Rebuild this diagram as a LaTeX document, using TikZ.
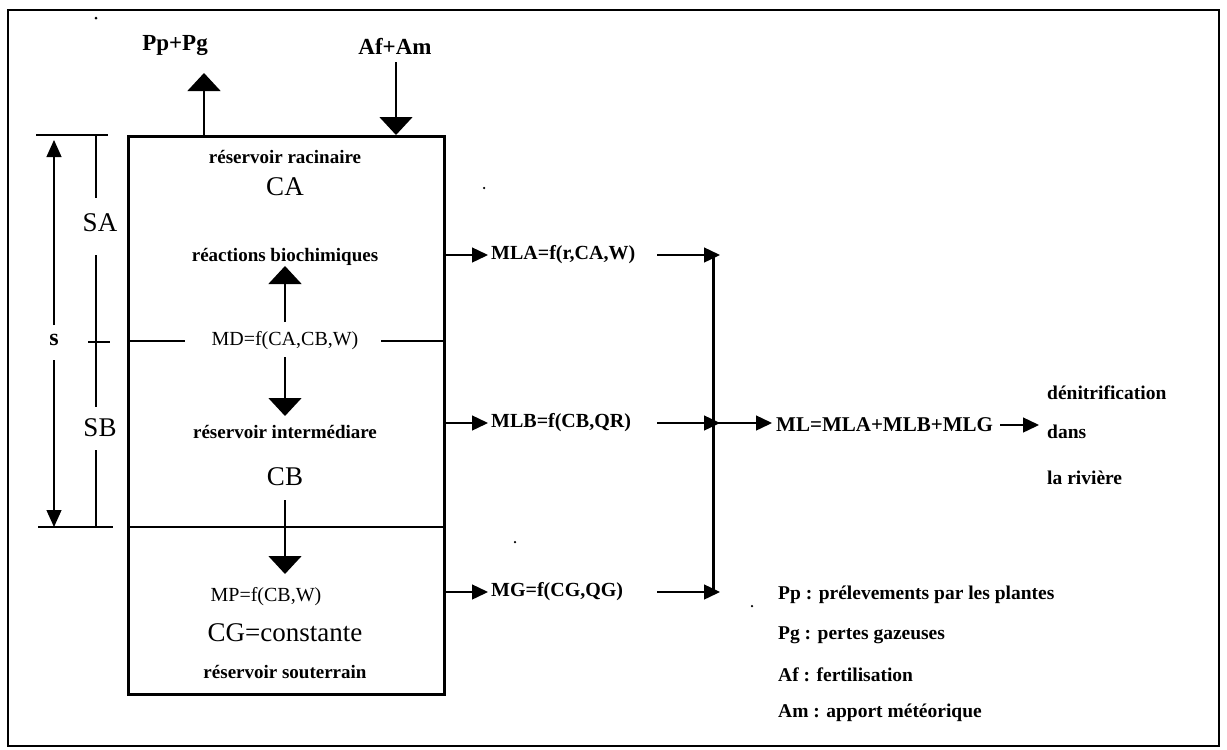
\documentclass[tikz,border=0pt]{standalone}
\usepackage{fontspec}
\setmainfont{Liberation Serif}
\usetikzlibrary{arrows.meta}
\begin{document}
\begin{tikzpicture}[x=1pt,y=-1pt,
  bigarrow/.style={-{Triangle[width=33pt,length=18pt]}, line width=1.6pt},
  smallarrow/.style={-{Triangle[width=15pt,length=16pt]}, line width=1.4pt},
  dimarrow/.style={-{Triangle[width=15pt,length=17pt]}, line width=1.3pt},
  thinline/.style={line width=1.3pt},
  txt/.style={inner sep=0pt, font=\fontsize{20}{20}\selectfont},
  btxt/.style={inner sep=0pt, font=\fontsize{19}{19}\selectfont\bfseries},
  toptxt/.style={inner sep=0pt, font=\fontsize{23}{23}\selectfont\bfseries},
  bigtxt/.style={inner sep=0pt, font=\fontsize{27}{27}\selectfont},
  frm/.style={inner sep=0pt, anchor=west, font=\fontsize{20}{20}\selectfont\bfseries},
  leg/.style={inner sep=0pt, anchor=west, font=\fontsize{19.5}{19.5}\selectfont\bfseries},
  dotmark/.style={fill=black, inner sep=0pt, minimum size=3pt, circle}
]
\useasboundingbox (0,0) rectangle (1227,750);
\draw[line width=2.5pt] (8,10) rectangle (1219,746);

% main box
\node[draw, line width=3pt, minimum width=316pt, minimum height=558pt,
      anchor=north west, inner sep=0pt] (box) at (127,135) {};

% top flows
\node[toptxt] (pppg) at (175,46) {Pp+Pg};
\node[toptxt] (afam) at (395,46) {Af+Am};
\coordinate (pout) at (204,135);
\coordinate (ptip) at (204,73);
\coordinate (ain) at (396,62);
\coordinate (atip) at (396,135);
\draw[bigarrow] (pout) -- (ptip);
\draw[bigarrow] (ain) -- (atip);

% scan dots
\node[dotmark] (d1) at (96,18) {};
\node[dotmark, minimum size=2.5pt] (d2) at (484,188) {};
\node[dotmark, minimum size=2.5pt] (d3) at (515,542) {};
\node[dotmark, minimum size=2.5pt] (d4) at (752,606) {};

% dimension lines
\node[bigtxt] (sa) at (100,223) {SA};
\node[bigtxt] (sb) at (100,428) {SB};
\node[inner sep=0pt, font=\fontsize{24}{24}\selectfont\bfseries] (s) at (54,340) {s};
\coordinate (dtopL) at (36,135);
\coordinate (dtopR) at (108,135);
\coordinate (dbotL) at (38,527);
\coordinate (dbotR) at (113,527);
\coordinate (v1) at (96,135);
\coordinate (v1b) at (96,198);
\coordinate (v2a) at (96,255);
\coordinate (v2b) at (96,407);
\coordinate (v3a) at (96,450);
\coordinate (v3b) at (96,527);
\coordinate (tickL) at (88,342);
\coordinate (tickR) at (110,342);
\coordinate (sup1) at (54,325);
\coordinate (stop) at (54,140);
\coordinate (sdn1) at (54,360);
\coordinate (sbot) at (54,527);
\draw[thinline] (dtopL) -- (dtopR);
\draw[thinline] (dbotL) -- (dbotR);
\draw[thinline] (v1) -- (v1b);
\draw[thinline] (v2a) -- (v2b);
\draw[thinline] (v3a) -- (v3b);
\draw[thinline] (tickL) -- (tickR);
\draw[dimarrow] (sup1) -- (stop);
\draw[dimarrow] (sdn1) -- (sbot);

% inside box
\node[btxt] (rr) at (285,157) {réservoir racinaire};
\node[bigtxt] (ca) at (285,187) {CA};
\node[btxt] (rb) at (285,257) {réactions biochimiques};
\node[txt] (md) at (285,341) {MD=f(CA,CB,W)};
\coordinate (mdL) at (box.west |- md);
\coordinate (mdR) at (box.east |- md);
\coordinate (mdLe) at (185,341);
\coordinate (mdRs) at (381,341);
\draw[thinline] (mdL) -- (mdLe);
\draw[thinline] (mdRs) -- (mdR);
\coordinate (upS) at (285,322);
\coordinate (upT) at (285,266);
\draw[bigarrow] (upS) -- (upT);
\node[btxt] (ri) at (285,432) {réservoir intermédiare};
\coordinate (dnS) at (285,357);
\coordinate (dnT) at (285,416);
\draw[bigarrow] (dnS) -- (dnT);
\node[bigtxt] (cb) at (285,477) {CB};
\coordinate (divL) at (box.west |- 0,527);
\coordinate (divR) at (box.east |- 0,527);
\draw[thinline] (divL) -- (divR);
\node[txt] (mp) at (266,597) {MP=f(CB,W)};
\coordinate (cbS) at (285,500);
\coordinate (cbT) at (285,574);
\draw[bigarrow] (cbS) -- (cbT);
\node[bigtxt] (cg) at (285,633) {CG=constante};
\node[btxt] (rs) at (285,672) {réservoir souterrain};

% right side flows
\node[frm] (mla) at (491,255) {MLA=f(r,CA,W)};
\node[frm] (mlb) at (491,423) {MLB=f(CB,QR)};
\node[frm] (mg) at (491,592) {MG=f(CG,QG)};
\draw[smallarrow] (box.east |- mla) -- ([xshift=-3pt]mla.west);
\draw[smallarrow] (box.east |- mlb) -- ([xshift=-3pt]mlb.west);
\draw[smallarrow] (box.east |- mg) -- ([xshift=-3pt]mg.west);
\coordinate (sa1) at (657,255);
\coordinate (sb1) at (657,423);
\coordinate (sg1) at (657,592);
\coordinate (ja) at (720,255);
\coordinate (jb) at (720,423);
\coordinate (jg) at (720,592);
\coordinate (vtop) at (713,255);
\coordinate (vbot) at (713,592);
\coordinate (vmid) at (713,423);
\draw[smallarrow] (sa1) -- (ja);
\draw[smallarrow] (sb1) -- (jb);
\draw[smallarrow] (sg1) -- (jg);
\draw[line width=3pt] (vtop) -- (vbot);
\node[frm, font=\fontsize{21}{21}\selectfont\bfseries] (ml) at (776,425) {ML=MLA+MLB+MLG};
\coordinate (mlT) at (772,423);
\draw[smallarrow] (vmid) -- (mlT);
\node[leg] (den) at (1047,393) {dénitrification};
\node[leg] (dans) at (1047,432) {dans};
\node[leg] (riv) at (1047,478) {la rivière};
\coordinate (rS) at (1000,425);
\coordinate (rT) at (1039,425);
\draw[smallarrow] (rS) -- (rT);

% legend
\node[leg] (l1) at (778,595) {Pp : prélevements par les plantes};
\node[leg] (l2) at (778,635) {Pg : pertes gazeuses};
\node[leg] (l3) at (778,675) {Af : fertilisation};
\node[leg] (l4) at (778,713) {Am : apport météorique};
\end{tikzpicture}
\end{document}
